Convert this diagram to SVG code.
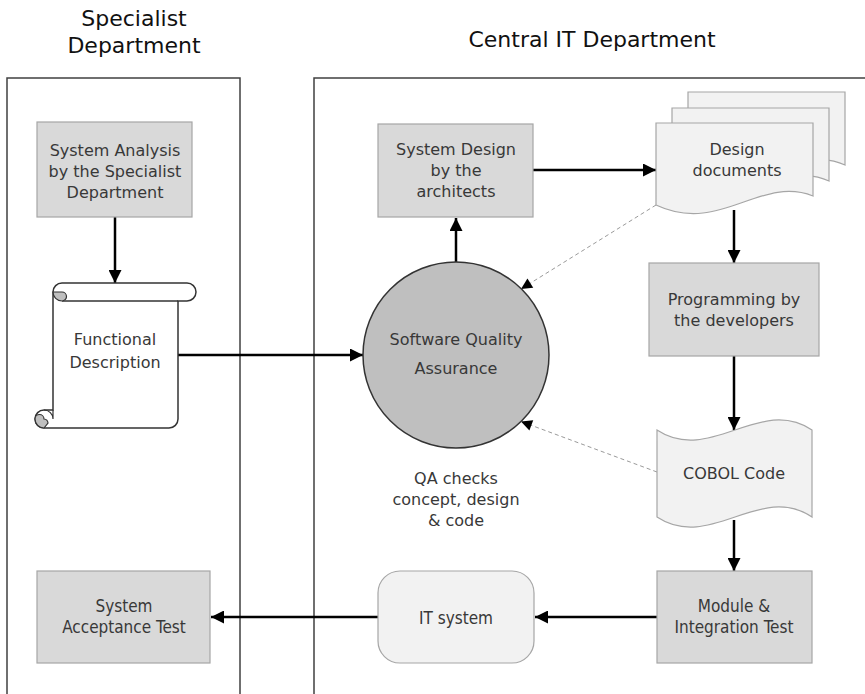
<svg xmlns="http://www.w3.org/2000/svg" width="865" height="694" viewBox="0 0 865 694">
<defs>
<style>
.lane{fill:#fff;stroke:#404040;stroke-width:1.5}
.title{font-family:"DejaVu Sans","Open Sans",sans-serif;font-size:22px;fill:#111;text-anchor:middle}
.t{font-family:"DejaVu Sans","Open Sans",sans-serif;font-size:16px;fill:#383838;text-anchor:middle}
.n{font-family:"DejaVu Sans Condensed","DejaVu Sans",sans-serif;font-stretch:condensed;font-size:17px;fill:#383838;text-anchor:middle}
.box{fill:#d9d9d9;stroke:#a6a6a6;stroke-width:1.2}
.doc{fill:#f2f2f2;stroke:#a6a6a6;stroke-width:1.2}
.flow{fill:none;stroke:#000;stroke-width:2.5}
.dash{fill:none;stroke:#9a9a9a;stroke-width:1;stroke-dasharray:4 3}
</style>
<marker id="ah" viewBox="0 0 12 12" refX="12" refY="6" markerWidth="14" markerHeight="13" markerUnits="userSpaceOnUse" orient="auto"><path d="M0,0 L12,6 L0,12 Z" fill="#000"/></marker>
<marker id="ahs" viewBox="0 0 12 12" refX="12" refY="6" markerWidth="12" markerHeight="11" markerUnits="userSpaceOnUse" orient="auto"><path d="M0,0 L12,6 L0,12 Z" fill="#000"/></marker>
</defs>
<rect width="865" height="694" fill="#fff"/>

<g id="lane-specialist">
<rect class="lane" x="7" y="78" width="233" height="620"/>
<text class="title" x="134" y="26">Specialist</text>
<text class="title" x="134" y="53">Department</text>
</g>
<g id="lane-it">
<rect class="lane" x="314" y="78" width="560" height="620"/>
<text class="title" x="592" y="47">Central IT Department</text>
</g>

<g id="connectors">
<line class="flow" x1="115" y1="217" x2="115" y2="283" marker-end="url(#ah)"/>
<line class="flow" x1="178" y1="355" x2="363" y2="355" marker-end="url(#ah)"/>
<line class="flow" x1="456" y1="262" x2="456" y2="218" marker-end="url(#ah)"/>
<line class="flow" x1="533" y1="170" x2="656" y2="170" marker-end="url(#ah)"/>
<line class="flow" x1="734" y1="210" x2="734" y2="263" marker-end="url(#ah)"/>
<line class="flow" x1="734" y1="356" x2="734" y2="430" marker-end="url(#ah)"/>
<line class="flow" x1="734" y1="520" x2="734" y2="571" marker-end="url(#ah)"/>
<line class="flow" x1="657" y1="617" x2="535" y2="617" marker-end="url(#ah)"/>
<line class="flow" x1="378" y1="617" x2="211" y2="617" marker-end="url(#ah)"/>
<line class="dash" x1="656" y1="205" x2="521" y2="289" marker-end="url(#ahs)"/>
<line class="dash" x1="657" y1="472" x2="521" y2="421.5" marker-end="url(#ahs)"/>
</g>

<g id="system-analysis">
<rect class="box" x="37" y="122" width="155" height="95"/>
<text class="t" x="115" y="156">System Analysis</text>
<text class="t" x="115" y="177">by the Specialist</text>
<text class="t" x="115" y="198">Department</text>
</g>

<g id="functional-description">
<path d="M62,283 L187,283 A9,9 0 0 1 187,301 L178,301 L178,419 A9,9 0 0 1 169,428 L44,428 A9,9 0 0 1 44,410 L53,410 L53,292 A9,9 0 0 1 62,283 Z" fill="#fff" stroke="#333" stroke-width="1.5"/>
<path d="M62,301 L178,301" fill="none" stroke="#333" stroke-width="1.5"/>
<path d="M53,292 A9,9 0 0 0 62,301 A4.5,4.5 0 0 0 62,292 Z" fill="#bfbfbf" stroke="#333" stroke-width="1.2"/>
<path d="M44,428 A9,9 0 0 1 35,419 A4.5,4.5 0 0 1 44,419 A4.5,4.5 0 0 1 48,423 Z" fill="#bfbfbf" stroke="#333" stroke-width="1.2"/>
<path d="M44,410 A9,9 0 0 1 53,419 L53,410" fill="none" stroke="#333" stroke-width="1.2"/>
<text class="t" x="115" y="345">Functional</text>
<text class="t" x="115" y="368">Description</text>
</g>

<g id="sqa">
<circle cx="456" cy="355" r="93" fill="#bfbfbf" stroke="#333" stroke-width="1.5"/>
<text class="t" x="456" y="345">Software Quality</text>
<text class="t" x="456" y="374">Assurance</text>
</g>

<g id="qa-note">
<text class="t" x="456" y="484">QA checks</text>
<text class="t" x="456" y="505">concept, design</text>
<text class="t" x="456" y="526">&amp; code</text>
</g>

<g id="system-design">
<rect class="box" x="378" y="124" width="155" height="93"/>
<text class="t" x="456" y="155">System Design</text>
<text class="t" x="456" y="176">by the</text>
<text class="t" x="456" y="197">architects</text>
</g>

<g id="design-documents">
<path class="doc" d="M688,92 L845,92 L845,165 C812,149 777,174 752,181 L720,185 L688,174 Z" stroke="#999" stroke-width="1.8"/>
<path class="doc" d="M672,108 L829,108 L829,181 C796,165 761,190 736,197 L704,201 L672,190 Z" stroke="#999" stroke-width="1.8"/>
<path class="doc" d="M656,123 L813,123 L813,196 C760,175 720,235 656,205 Z"/>
<text class="t" x="737" y="155">Design</text>
<text class="t" x="737" y="176">documents</text>
</g>

<g id="programming">
<rect class="box" x="649" y="263" width="170" height="93"/>
<text class="t" x="734" y="305">Programming by</text>
<text class="t" x="734" y="326">the developers</text>
</g>

<g id="cobol-code">
<path class="doc" d="M657,430 C710,465 760,395 812,430 L812,517 C760,482 710,552 657,517 Z"/>
<text class="t" x="734" y="479">COBOL Code</text>
</g>

<g id="module-test">
<rect class="box" x="657" y="571" width="155" height="92"/>
<text class="n" x="734" y="612">Module &amp;</text>
<text class="n" x="734" y="633">Integration Test</text>
</g>

<g id="it-system">
<rect class="doc" x="378" y="571" width="156" height="92" rx="22" ry="22"/>
<text class="n" x="456" y="624">IT system</text>
</g>

<g id="acceptance-test">
<rect class="box" x="37" y="571" width="173" height="92"/>
<text class="n" x="124" y="612">System</text>
<text class="n" x="124" y="633">Acceptance Test</text>
</g>
</svg>
